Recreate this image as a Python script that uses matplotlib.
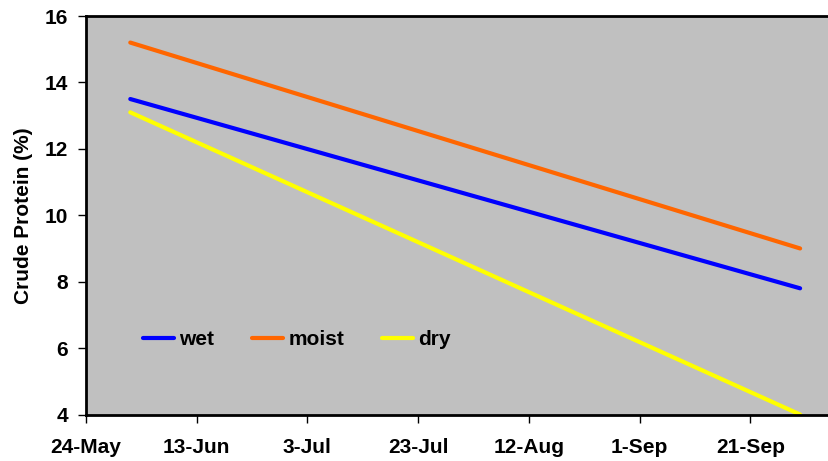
import matplotlib
matplotlib.use("Agg")
import matplotlib.pyplot as plt
from datetime import date, timedelta

plt.rcParams['font.family'] = ['Liberation Sans', 'DejaVu Sans']
plt.rcParams['font.weight'] = 'bold'

# data: start / end of season, crude protein (%)
dates = [date(2007, 6, 1), date(2007, 9, 30)]
wet = [13.5, 7.8]
moist = [15.2, 9.0]
dry = [13.1, 4.0]

tick_start = date(2007, 5, 24)
tick_dates = [tick_start + timedelta(days=20 * i) for i in range(7)]
tick_labels = ['24-May', '13-Jun', '3-Jul', '23-Jul', '12-Aug', '1-Sep', '21-Sep']
x_end = tick_start + timedelta(days=140)  # 11-Oct, just past the picture edge

fig = plt.figure(figsize=(8.29, 4.61), dpi=100)
# right edge of the plot area runs off the picture, like the original
ax = fig.add_axes([86 / 829, 1 - 414.5 / 461, (861 - 86) / 829, (414.5 - 16) / 461])
ax.set_facecolor('#C0C0C0')

ax.plot(dates, wet, color='#0000FF', lw=3, solid_capstyle='round', label='wet')
ax.plot(dates, moist, color='#FF6600', lw=3, solid_capstyle='round', label='moist')
ax.plot(dates, dry, color='#FFFF00', lw=3, solid_capstyle='round', label='dry')

ax.set_xlim(tick_start, x_end)
ax.set_ylim(4, 16)
ax.set_xticks(tick_dates)
ax.set_xticklabels(tick_labels)
ax.set_yticks(range(4, 17, 2))
ax.tick_params(axis='both', direction='out', length=6, width=1, labelsize=15, pad=7)
ax.tick_params(axis='x', pad=11)

for s in ax.spines.values():
    s.set_linewidth(2)
    s.set_color('black')

ax.set_ylabel('Crude Protein (%)', fontsize=15, fontweight='bold', labelpad=8)

ax.legend(loc='center left', bbox_to_anchor=(0.0735, 0.187), ncol=3, frameon=False,
          fontsize=15, handlelength=1.5, handletextpad=0.25, columnspacing=1.8,
          borderpad=0, borderaxespad=0)

fig.savefig('out.png', dpi=100)
